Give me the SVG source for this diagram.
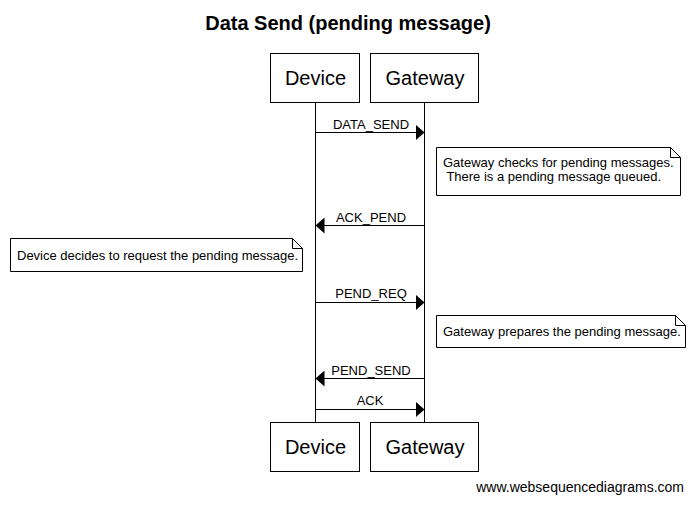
<svg xmlns="http://www.w3.org/2000/svg" width="693" height="506" viewBox="0 0 693 506">
<defs>
<style>
text{font-family:"Liberation Sans",Arial,sans-serif;fill:#000}
.box{fill:#fff;stroke:#000;stroke-width:1}
.life{stroke:#000;stroke-width:1}
.msg{stroke:#000;stroke-width:1;fill:none}
.note{fill:#fff;stroke:#000;stroke-width:1}
.fold{fill:none;stroke:#000;stroke-width:1}
.actor{font-size:20px;text-anchor:middle}
.lbl{font-size:13px;text-anchor:middle}
.nt{font-size:13px}
</style>
<marker id="ah" markerWidth="10" markerHeight="16" refX="9" refY="8" orient="auto" markerUnits="userSpaceOnUse">
<path d="M0,0 L9,8 L0,16 Z" fill="#000"/>
</marker>
</defs>
<rect width="693" height="506" fill="#fff"/>
<text x="348" y="30" font-size="20" font-weight="bold" text-anchor="middle">Data Send (pending message)</text>
<g id="lifelines">
<line class="life" x1="315.5" y1="102" x2="315.5" y2="422"/>
<line class="life" x1="424.5" y1="102" x2="424.5" y2="422"/>
</g>
<g id="device-top"><rect class="box" x="270.5" y="53.5" width="89" height="49"/><text class="actor" x="315.5" y="85">Device</text></g>
<g id="gateway-top"><rect class="box" x="370.5" y="53.5" width="108" height="49"/><text class="actor" x="425" y="85">Gateway</text></g>
<g id="device-bottom"><rect class="box" x="270.5" y="422.5" width="89" height="49"/><text class="actor" x="315.5" y="454">Device</text></g>
<g id="gateway-bottom"><rect class="box" x="370.5" y="422.5" width="108" height="49"/><text class="actor" x="425" y="454">Gateway</text></g>
<g id="connectors">
<line class="msg" x1="315.5" y1="132.5" x2="424.5" y2="132.5" marker-end="url(#ah)"/>
<text class="lbl" x="371" y="128.5">DATA_SEND</text>
<line class="msg" x1="424.5" y1="225.5" x2="315.5" y2="225.5" marker-end="url(#ah)"/>
<text class="lbl" x="371" y="221.5">ACK_PEND</text>
<line class="msg" x1="315.5" y1="302.5" x2="424.5" y2="302.5" marker-end="url(#ah)"/>
<text class="lbl" x="371" y="298">PEND_REQ</text>
<line class="msg" x1="424.5" y1="378.5" x2="315.5" y2="378.5" marker-end="url(#ah)"/>
<text class="lbl" x="371" y="374.5">PEND_SEND</text>
<line class="msg" x1="315.5" y1="409.5" x2="424.5" y2="409.5" marker-end="url(#ah)"/>
<text class="lbl" x="370" y="405">ACK</text>
</g>
<g id="note1">
<path class="note" d="M436.5,147.5 H670.5 L680.5,157.5 V195.5 H436.5 Z"/>
<path class="fold" d="M670.5,147.5 V157.5 H680.5"/>
<text class="nt" x="443" y="167">Gateway checks for pending messages.</text>
<text class="nt" x="443" y="181" xml:space="preserve"> There is a pending message queued.</text>
</g>
<g id="note2">
<path class="note" d="M10.5,238.5 H292.5 L302.5,248.5 V271.5 H10.5 Z"/>
<path class="fold" d="M292.5,238.5 V248.5 H302.5"/>
<text class="nt" x="17" y="259.5">Device decides to request the pending message.</text>
</g>
<g id="note3">
<path class="note" d="M436.5,315.5 H675.5 L685.5,325.5 V347.5 H436.5 Z"/>
<path class="fold" d="M675.5,315.5 V325.5 H685.5"/>
<text class="nt" x="443" y="336">Gateway prepares the pending message.</text>
</g>
<text x="684" y="492" font-size="14" text-anchor="end">www.websequencediagrams.com</text>
</svg>
